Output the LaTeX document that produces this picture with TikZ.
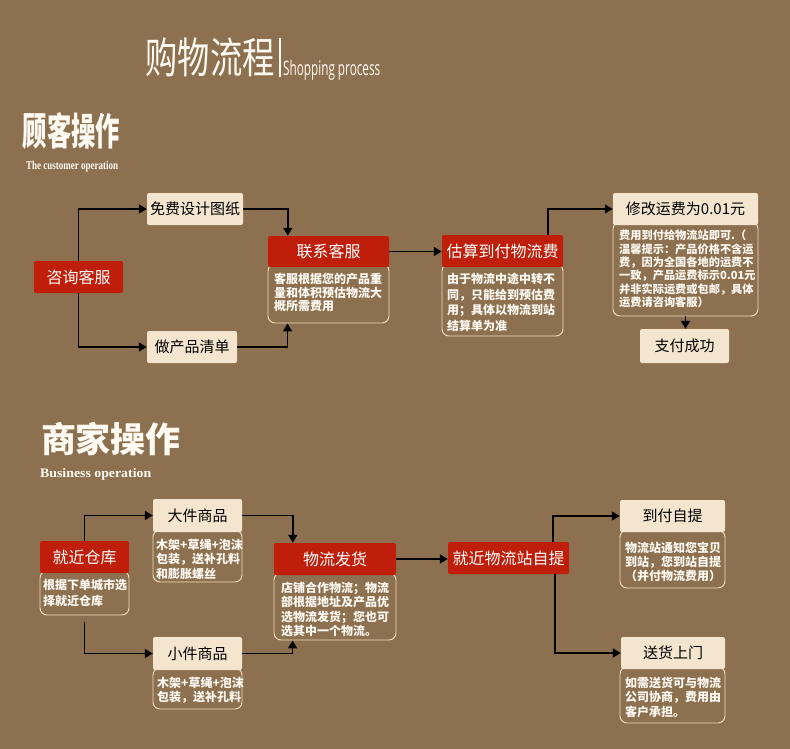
\documentclass[tikz,border=0pt]{standalone}
\usepackage{fontspec}
\usepackage{graphicx}
\setmainfont{Liberation Serif}
\newfontfamily\cjk{Noto Sans CJK SC}
\newfontfamily\latin{Open Sans}
\usetikzlibrary{arrows.meta,fit,calc}
\definecolor{bg}{RGB}{141,112,80}
\definecolor{boxred}{RGB}{190,30,10}
\definecolor{cream}{RGB}{243,229,206}
\definecolor{edge}{RGB}{245,222,190}
\definecolor{txtw}{RGB}{255,250,242}
\tikzset{
  redbox/.style={fill=boxred, rounded corners=2pt, text=white, inner sep=0pt,
    font=\cjk\fontsize{16}{18}\selectfont},
  creambox/.style={fill=cream, rounded corners=2pt, text=black, inner sep=0pt,
    font=\cjk\fontsize{15}{18}\selectfont},
  descbox/.style={draw=edge, fill=bg, line width=0.9pt, rounded corners=7pt, inner sep=0pt},
  desctext/.style={text=txtw, align=left, inner sep=0pt, anchor=north west,
    font=\cjk\bfseries\fontsize{12}{#1}\selectfont},
  desctext/.default=14,
  arr/.style={draw=black, line width=1.6pt, -{Triangle[length=8pt,width=9pt]}},
}
\begin{document}
\begin{tikzpicture}[x=1pt,y=-1pt]
\fill[bg] (0,0) rectangle (790,749);
\useasboundingbox (0,0) rectangle (790,749);

% titles
\node[text=txtw, font=\cjk\fontsize{34}{36}\selectfont, inner sep=0pt] (title) at (210,57)
  {\scalebox{0.95}[1.25]{购物流程}};
\draw[txtw, line width=1.5pt] (280,38) -- (280,77);
\node[anchor=base west, text=txtw, font=\latin\fontsize{20}{22}\selectfont, inner sep=0pt] (sub) at (283,76)
  {\resizebox{97pt}{\height}{Shopping process}};
\node[text=txtw, font=\cjk\bfseries\fontsize{38}{40}\selectfont, inner sep=0pt] (t1) at (71.5,131)
  {\scalebox{0.64}[1]{顾客操作}};
\node[anchor=base west, text=txtw, font=\bfseries\fontsize{12}{14}\selectfont, inner sep=0pt] (t1e) at (26,170)
  {\resizebox{92pt}{\height}{The customer operation}};
\node[text=txtw, font=\cjk\bfseries\fontsize{35}{37}\selectfont, inner sep=0pt] (t2) at (111,439)
  {商家操作};
\node[anchor=base west, text=txtw, font=\bfseries\fontsize{13}{15}\selectfont, inner sep=0pt] (t2e) at (40,477)
  {\resizebox{111pt}{\height}{Business operation}};

% customer section
\node[descbox, fit={(268,264) (389,323)}] (contactd) {};
\node[descbox, fit={(442,264) (563,336)}] (estd) {};
\node[descbox, fit={(613,222) (758,316)}] (modd) {};
\node[redbox, minimum width=89pt, minimum height=32pt] (cons) at (78.5,277) {咨询客服};
\node[creambox, minimum width=96pt, minimum height=32pt] (free) at (195,209) {免费设计图纸};
\node[creambox, minimum width=90pt, minimum height=32pt] (list) at (192,347) {做产品清单};
\node[redbox, minimum width=121pt, minimum height=31pt] (contact) at (328.5,251.5) {联系客服};
\node[redbox, minimum width=121pt, minimum height=32pt] (est) at (502.5,251) {估算到付物流费};
\node[creambox, minimum width=145pt, minimum height=32pt] (modify) at (685.5,209) {修改运费为0.01元};
\node[creambox, minimum width=89pt, minimum height=34pt] (pay) at (684.5,346) {支付成功};

\node[desctext=13.5] (contactt) at (274,273) {客服根据您的产品重\\量和体积预估物流大\\概所需费用};
\node[desctext=15.6] (estt) at (447,273) {由于物流中途中转不\\同，只能给到预估费\\用；具体以物流到站\\结算单为准};
\node[desctext, font=\cjk\bfseries\fontsize{11.2}{13.3}\selectfont] (modt) at (619,230)
  {费用到付给物流站即可.（\\温馨提示：产品价格不含运\\费，因为全国各地的运费不\\一致，产品运费标示0.01元\\并非实际运费或包邮，具体\\运费请咨询客服）};

\draw[arr] (cons.north) |- (free.west);
\draw[arr] (cons.south) |- (list.west);
\draw[arr] (free.east) -| ([xshift=20pt]contact.north west);
\draw[arr] (list.east) -| ([xshift=20pt]contactd.south west);
\draw[arr] (contact.east) -- (contact.east -| est.west);
\draw[arr] ([xshift=-15pt]est.north east) |- (modify.west);
\draw[arr] (modd.south) -- (modd.south |- pay.north);

% business section
\node[descbox, fit={(40,571) (129,615)}] (whd) {};
\node[descbox, fit={(153,530) (242,582)}] (bigd) {};
\node[descbox, fit={(153,668) (242,709)}] (smalld) {};
\node[descbox, fit={(274,573) (396,640)}] (shipd) {};
\node[descbox, fit={(620,530) (725,588)}] (codd) {};
\node[descbox, fit={(620,667) (725,723)}] (doord) {};
\node[redbox, minimum width=89pt, minimum height=32pt] (wh) at (84.5,557) {就近仓库};
\node[creambox, minimum width=89pt, minimum height=33pt] (big) at (197.5,515.5) {大件商品};
\node[creambox, minimum width=89pt, minimum height=33pt] (small) at (197.5,653.5) {小件商品};
\node[redbox, minimum width=122pt, minimum height=32pt] (ship) at (335,559) {物流发货};
\node[redbox, minimum width=121pt, minimum height=32pt] (pick) at (508.5,558) {就近物流站自提};
\node[creambox, minimum width=105pt, minimum height=32pt] (cod) at (672.5,516) {到付自提};
\node[creambox, minimum width=104pt, minimum height=32pt] (door) at (673,653) {送货上门};

\node[desctext=16] (wht) at (43,579) {根据下单城市选\\择就近仓库};
\node[desctext=14.5] (bigt) at (156,539) {木架+草绳+泡沫\\包装，送补孔料\\和膨胀螺丝};
\node[desctext=14] (smallt) at (157,677) {木架+草绳+泡沫\\包装，送补孔料};
\node[desctext=14.3] (shipt) at (281,582) {店铺合作物流；物流\\部根据地址及产品优\\选物流发货；您也可\\选其中一个物流。};
\node[desctext=13.8] (codt) at (625,542) {物流站通知您宝贝\\到站，您到站自提\\（并付物流费用）};
\node[desctext=14.3] (doort) at (625,677) {如需送货可与物流\\公司协商，费用由\\客户承担。};

\coordinate (whx) at ([yshift=-7pt]whd.south);
\draw[arr] (wh.north) |- (big.west);
\draw[arr] (whx) |- (small.west);
\draw[arr] (big.east) -| ([xshift=19pt]ship.north west);
\draw[arr] (small.east) -| ([xshift=19pt]shipd.south west);
\draw[arr] (ship.east) -- (ship.east -| pick.west);
\draw[arr] ([xshift=-16pt]pick.north east) |- (cod.west);
\draw[arr] ([xshift=-14pt]pick.south east) |- (door.west);
\end{tikzpicture}
\end{document}
